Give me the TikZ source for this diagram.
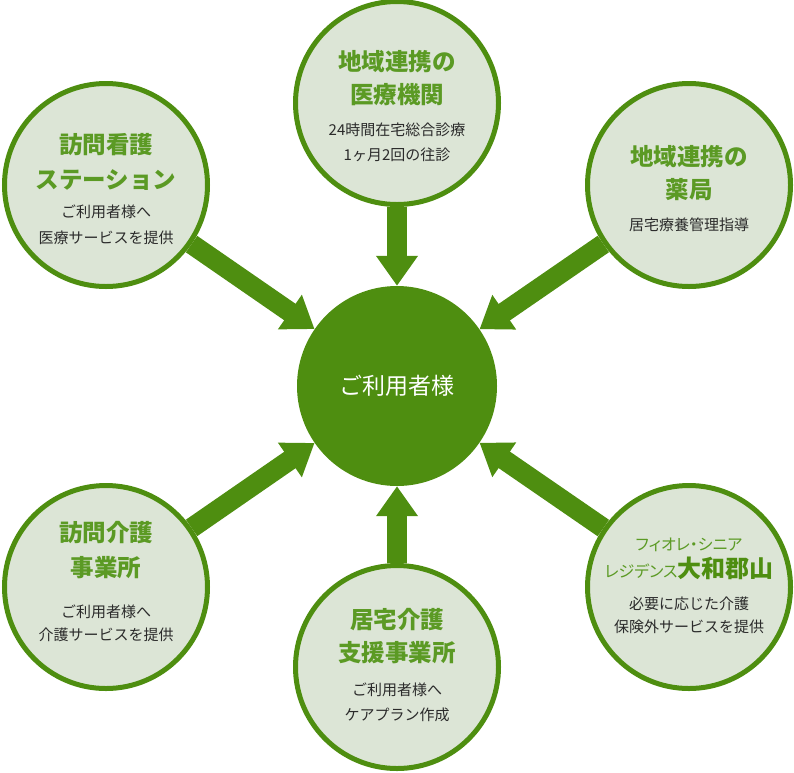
\documentclass[tikz,border=0pt]{standalone}
\usepackage{fontspec}
\setmainfont{Noto Sans CJK JP}
\usetikzlibrary{arrows.meta}
\definecolor{leaf}{HTML}{4E8E10}
\definecolor{pale}{HTML}{DCE5D6}
\definecolor{sprout}{HTML}{5B9A24}
\definecolor{ink}{HTML}{2B2B2B}
\newcommand{\hd}[1]{{\fontsize{23.5}{24}\selectfont\bfseries\color{sprout}#1}}
\newcommand{\sm}[1]{{\fontsize{16}{24}\selectfont\addfontfeatures{RawFeature=+palt}\color{sprout}#1}}

\begin{document}
\begin{tikzpicture}[x=1pt,y=-1pt,
    spoke/.style={circle,draw=leaf,line width=5pt,fill=pale,minimum size=203pt,inner sep=0pt},
    note/.style={align=center,text=ink,inner sep=0pt,font=\fontsize{15}{24}\selectfont},
    hub/.style={circle,fill=leaf,minimum size=200pt,inner sep=0pt,text=white,font=\fontsize{23}{28}\selectfont},
    flow/.style={draw=leaf,line width=20pt,-{Triangle[length=30pt,width=40pt]}}]
    \useasboundingbox (0,0) rectangle (794,772);
    \node[hub] (user) at (397,386) {ご利用者様};
    \node[spoke] (clinic) at (397,103) {};
    \node[spoke] (nurse) at (106,185) {};
    \node[spoke] (pharmacy) at (689,185) {};
    \node[spoke] (helper) at (106,587) {};
    \node[spoke] (planner) at (397,667) {};
    \node[spoke] (fiore) at (689,587) {};
    \node[note] (clinic-txt) at ([yshift=-3pt]clinic.center)
        {\hd{地域連携の}\\[9pt]\hd{医療機関}\\[8pt]24時間在宅総合診療\\[1pt]1ヶ月2回の往診};
    \node[note] (nurse-txt) at ([yshift=-4pt]nurse.center)
        {\hd{訪問看護}\\[11pt]\hd{ステーション}\\[5pt]ご利用者様へ\\[2pt]医療サービスを提供};
    \node[note] (pharmacy-txt) at ([yshift=-4pt]pharmacy.center)
        {\hd{地域連携の}\\[9pt]\hd{薬局}\\[8pt]居宅療養管理指導};
    \node[note] (helper-txt) at ([yshift=5pt]helper.center)
        {\hd{訪問介護}\\[11pt]\hd{事業所}\\[17pt]ご利用者様へ\\[-1pt]介護サービスを提供};
    \node[note] (planner-txt) at ([yshift=1.5pt]planner.center)
        {\hd{居宅介護}\\[9pt]\hd{支援事業所}\\[10pt]ご利用者様へ\\[1pt]ケアプラン作成};
    \node[note] (fiore-txt) at ([yshift=1pt]fiore.center)
        {\sm{フィオレ・シニア}\\[3pt]\sm{レジデンス}{\fontsize{24}{24}\selectfont\bfseries\color{leaf}大和郡山}\\[8pt]必要に応じた介護\\[-1pt]保険外サービスを提供};
    \foreach \s in {clinic,nurse,pharmacy,helper,planner,fiore}
        \draw[flow] (\s) -- (user);
\end{tikzpicture}
\end{document}
